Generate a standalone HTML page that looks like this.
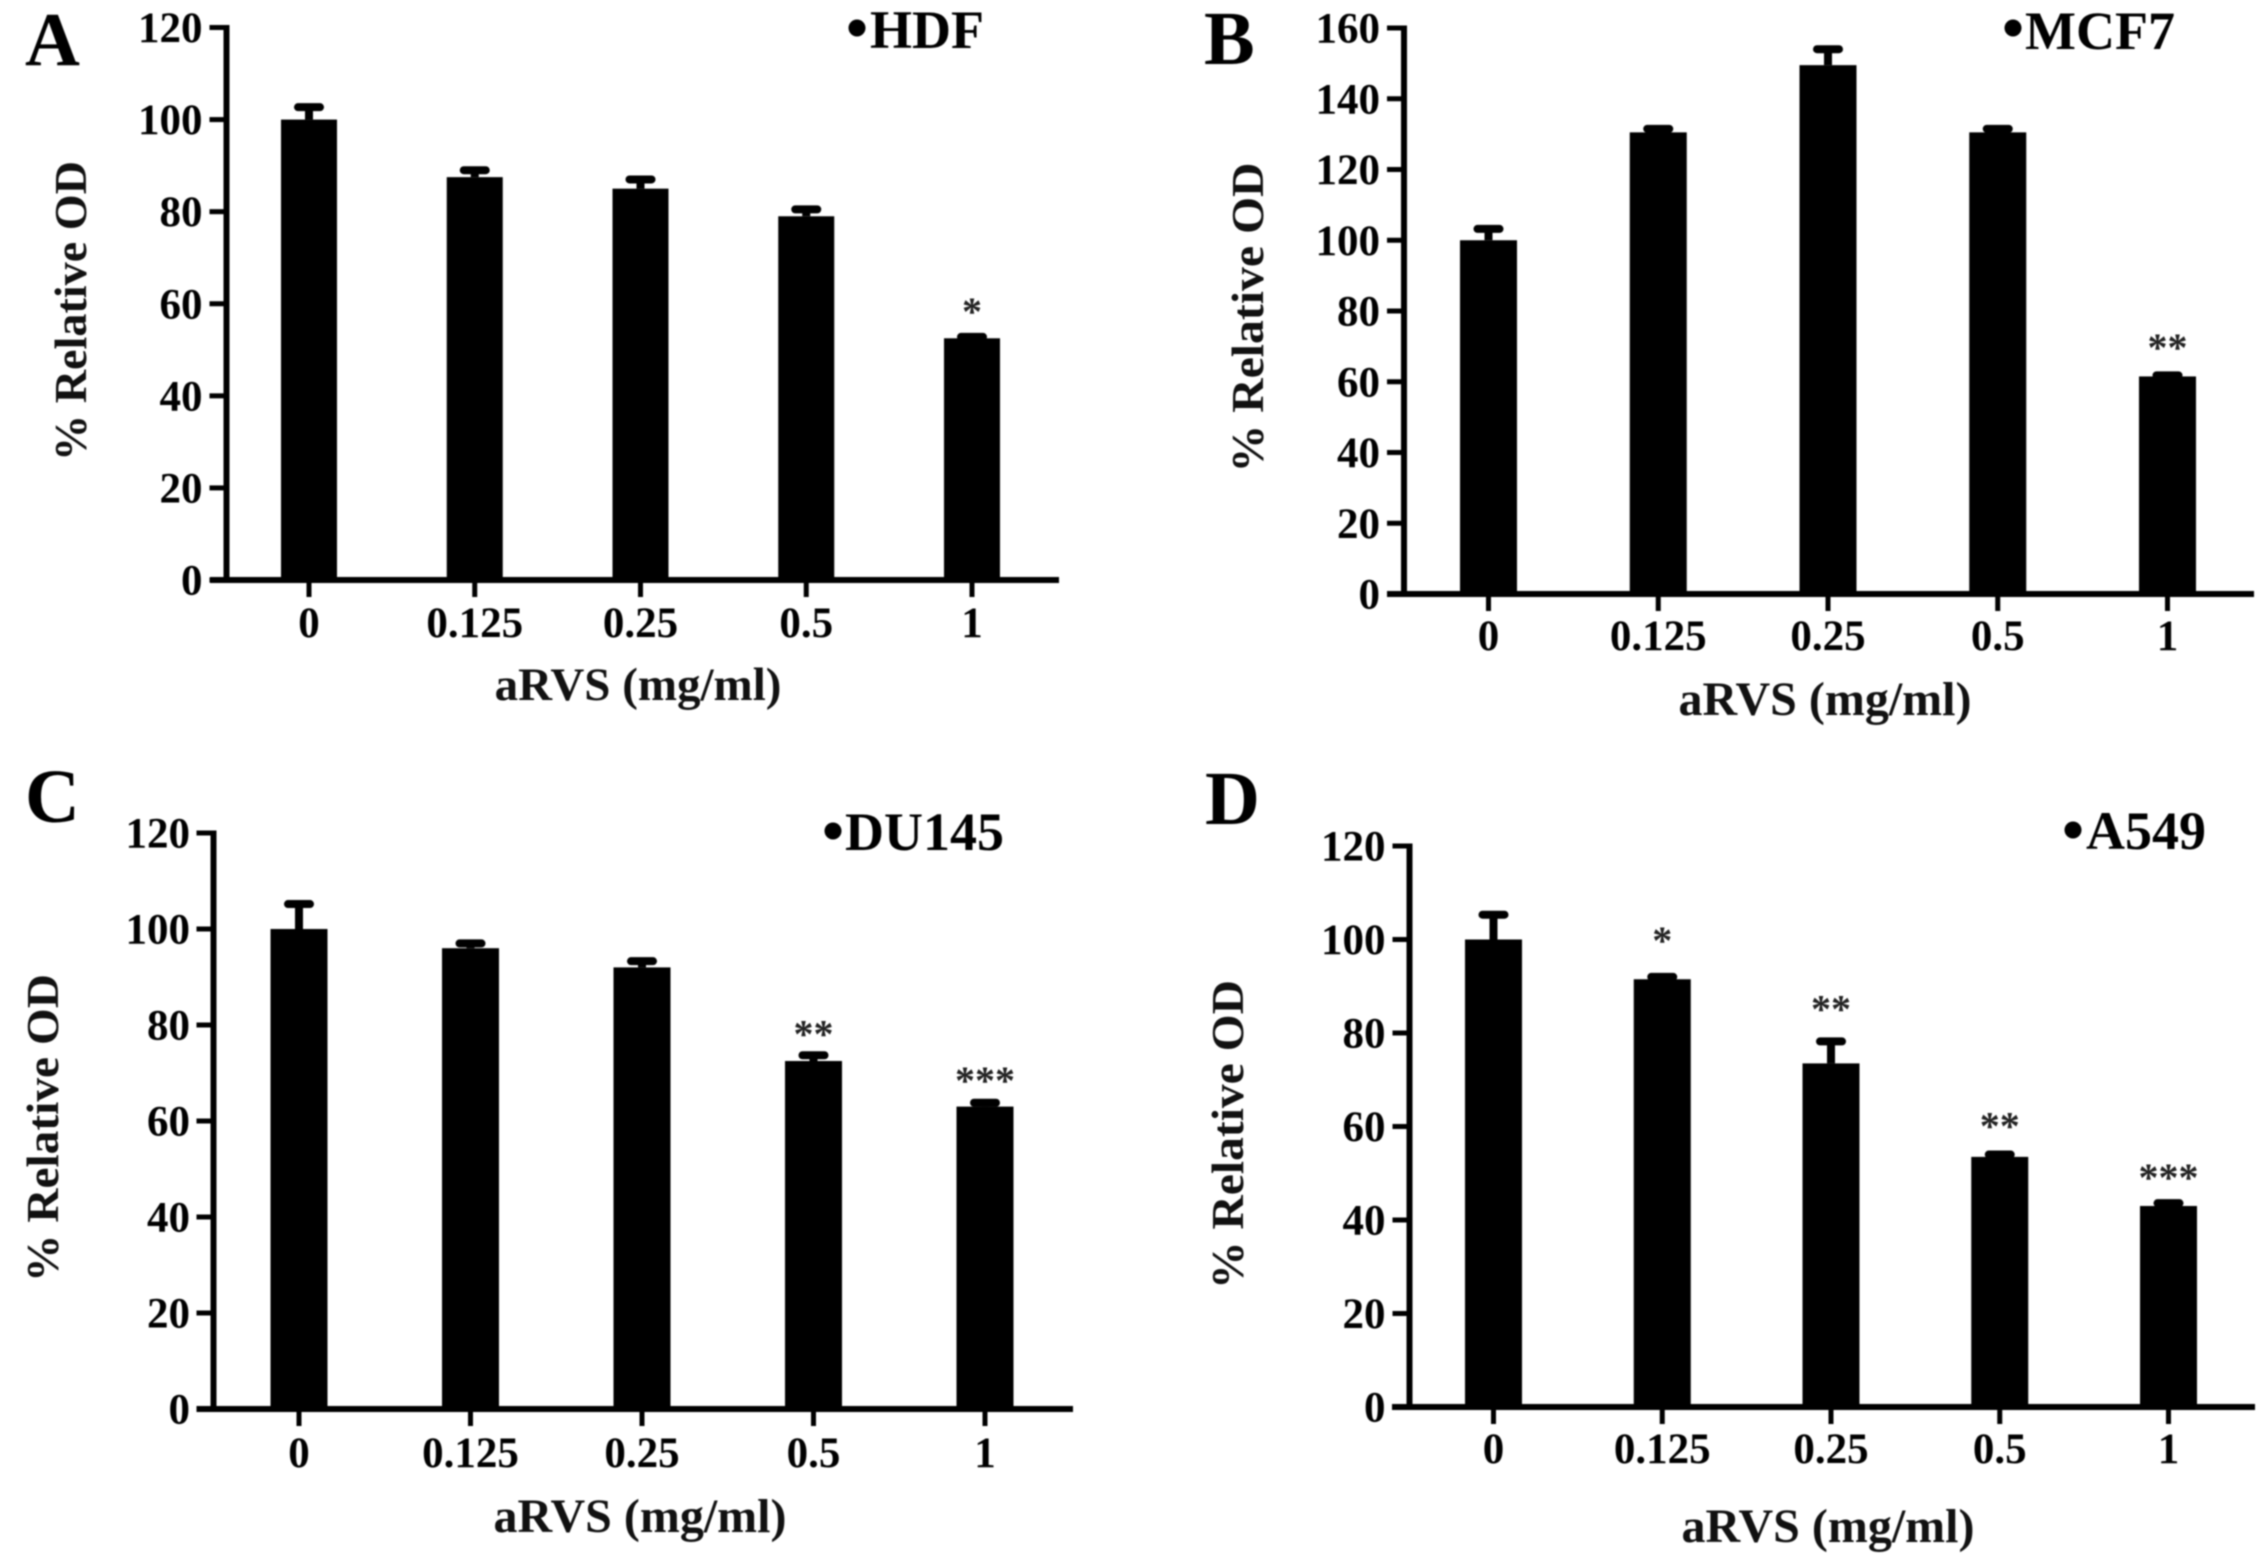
<!DOCTYPE html>
<html lang="en">
<head>
<meta charset="utf-8">
<title>Relative OD versus aRVS concentration in four cell lines</title>
<style>
html,body{margin:0;padding:0;background:#fff;width:2268px;height:1566px;overflow:hidden}
svg{display:block;filter:blur(0.7px)}
text{font-family:"Liberation Serif",serif;font-weight:bold;fill:#000}
.tick{font-size:43px}
.axis-title{font-size:48px;text-anchor:middle;fill:#111}
.y-title{font-size:46px;text-anchor:middle;fill:#111}
.legend{font-size:54px}
.letter{font-size:76px}
.star{font-size:40px;font-weight:bold;text-anchor:middle;fill:#222}
</style>
</head>
<body>
<svg id="figure" xmlns="http://www.w3.org/2000/svg" width="2268" height="1566" viewBox="0 0 2268 1566">
  <rect x="0" y="0" width="2268" height="1566" fill="#fff"/>

  <g id="panel-a">
    <text class="letter" x="25" y="65">A</text>
    <circle cx="857" cy="28" r="8.5" fill="#000"/>
    <text class="legend" x="870" y="48">HDF</text>
    <text class="y-title" transform="translate(86 311) rotate(-90)" textLength="300" lengthAdjust="spacingAndGlyphs">% Relative OD</text>
    <text class="axis-title" x="638" y="700" style="font-size:47px">aRVS (mg/ml)</text>
  </g>

  <g id="panel-b">
    <text class="letter" x="1204" y="64">B</text>
    <circle cx="2013" cy="28" r="8.5" fill="#000"/>
    <text class="legend" x="2025" y="49">MCF7</text>
    <text class="y-title" transform="translate(1263 317.5) rotate(-90)" textLength="310" lengthAdjust="spacingAndGlyphs">% Relative OD</text>
    <text class="axis-title" x="1825" y="715">aRVS (mg/ml)</text>
  </g>

  <g id="panel-c">
    <text class="letter" x="25" y="822">C</text>
    <circle cx="833" cy="831" r="8.5" fill="#000"/>
    <text class="legend" x="845" y="850">DU145</text>
    <text class="y-title" transform="translate(58 1128) rotate(-90)" textLength="308" lengthAdjust="spacingAndGlyphs">% Relative OD</text>
    <text class="axis-title" x="640" y="1532">aRVS (mg/ml)</text>
  </g>

  <g id="panel-d">
    <text class="letter" x="1205" y="824">D</text>
    <circle cx="2073" cy="830" r="8.5" fill="#000"/>
    <text class="legend" x="2086" y="849">A549</text>
    <text class="y-title" transform="translate(1243 1134.5) rotate(-90)" textLength="309" lengthAdjust="spacingAndGlyphs">% Relative OD</text>
    <text class="axis-title" x="1828" y="1542">aRVS (mg/ml)</text>
  </g>
</svg>

<script>
// Data
const categories = ['0', '0.125', '0.25', '0.5', '1'];

const ticksTo120 = [0, 20, 40, 60, 80, 100, 120];
const ticksTo160 = [0, 20, 40, 60, 80, 100, 120, 140, 160];

const hdfValues = [100, 87.5, 85, 79, 52.5];
const hdfErrorTops = [102.7, 89, 87, 80.5, 52.8];
const hdfStars = ['', '', '', '', '*'];

const mcf7Values = [100, 130.5, 149.5, 130.5, 61.5];
const mcf7ErrorTops = [103.2, 131.5, 154, 131.5, 61.8];
const mcf7Stars = ['', '', '', '', '**'];

const du145Values = [100, 96, 92, 72.5, 63];
const du145ErrorTops = [105.2, 97, 93.3, 73.7, 63.8];
const du145Stars = ['', '', '', '**', '***'];

const a549Values = [100, 91.5, 73.5, 53.5, 43];
const a549ErrorTops = [105.3, 92, 78.2, 54, 43.6];
const a549Stars = ['', '*', '**', '**', '***'];

// Panel frames (layout only)
const panelA = {id: 'panel-a', axisX: 226.5, top: 27.5, zero: 580, axisStart: 210, axisEnd: 1059, firstBar: 309, lastBar: 972, barW: 56, labelGap: 57, labelRight: 24, starGaps: [0, 0, 0, 0, 31], ticks: ticksTo120, values: hdfValues, tops: hdfErrorTops, stars: hdfStars};
const panelB = {id: 'panel-b', axisX: 1404, top: 28, zero: 594, axisStart: 1387, axisEnd: 2254, firstBar: 1488.5, lastBar: 2167.5, barW: 57, labelGap: 56, labelRight: 24, starGaps: [0, 0, 0, 0, 33.5], ticks: ticksTo160, values: mcf7Values, tops: mcf7ErrorTops, stars: mcf7Stars};
const panelC = {id: 'panel-c', axisX: 213.5, top: 833, zero: 1409, axisStart: 196.5, axisEnd: 1073, firstBar: 299, lastBar: 985, barW: 57, labelGap: 58, labelRight: 23.5, starGaps: [0, 0, 0, 26.5, 28], ticks: ticksTo120, values: du145Values, tops: du145ErrorTops, stars: du145Stars};
const panelD = {id: 'panel-d', axisX: 1409.5, top: 846, zero: 1407, axisStart: 1392, axisEnd: 2255, firstBar: 1493.5, lastBar: 2168.5, barW: 57, labelGap: 56, labelRight: 24, starGaps: [0, 42, 38, 34, 31], ticks: ticksTo120, values: a549Values, tops: a549ErrorTops, stars: a549Stars};

const SVG_NS = 'http://www.w3.org/2000/svg';

function shape(parent, tag, props) {
  const el = document.createElementNS(SVG_NS, tag);
  for (const k in props) el.setAttribute(k, props[k]);
  parent.appendChild(el);
  return el;
}

function drawPanel(p) {
  const g = document.getElementById(p.id);
  const yMax = p.ticks[p.ticks.length - 1];
  const yScale = v => p.zero - (v / yMax) * (p.zero - p.top);
  const xScale = i => p.firstBar + i * (p.lastBar - p.firstBar) / (categories.length - 1);

  p.values.forEach((v, i) => {
    const cx = xScale(i);

    const stem = shape(g, 'rect', {x: cx - 4, y: yScale(p.tops[i]), width: 8, height: Math.max(0, yScale(v) - yScale(p.tops[i])), fill: '#000'});
    
    

    const cap = shape(g, 'rect', {x: cx - 15, y: yScale(p.tops[i]) - 4, width: 30, height: 8, rx: 4, fill: '#000'});
    
    

    const bar = shape(g, 'rect', {x: cx - p.barW / 2, y: yScale(v), width: p.barW, height: p.zero - yScale(v), fill: '#000'});
    
    

    const xTick = shape(g, 'rect', {x: cx - 2.5, y: p.zero, width: 5, height: 17, fill: '#000'});
    
    

    const xLabel = shape(g, 'text', {class: 'tick', x: cx, y: p.zero + p.labelGap, 'text-anchor': 'middle'});
    xLabel.textContent = categories[i];
    
    

    if (p.stars[i]) {
      const star = shape(g, 'text', {class: 'star', x: cx, y: yScale(p.tops[i]) - p.starGaps[i] + 19});
      star.textContent = p.stars[i];
      
      
    }
  });

  p.ticks.forEach(t => {
    const yTick = shape(g, 'rect', {x: p.axisX - 17, y: yScale(t) - 2.5, width: 17, height: 5, fill: '#000'});
    
    

    const yLabel = shape(g, 'text', {class: 'tick', x: p.axisX - p.labelRight, y: yScale(t) + 14.5, 'text-anchor': 'end'});
    yLabel.textContent = String(t);
    
    
  });

  const yAxis = shape(g, 'rect', {x: p.axisX - 3, y: p.top - 2.5, width: 6, height: p.zero - p.top + 5, fill: '#000'});
  
  

  const xAxis = shape(g, 'rect', {x: p.axisStart, y: p.zero - 3, width: p.axisEnd - p.axisStart, height: 6, fill: '#000'});
  
  
}

[panelA, panelB, panelC, panelD].forEach(drawPanel);
</script>
</body>
</html>
